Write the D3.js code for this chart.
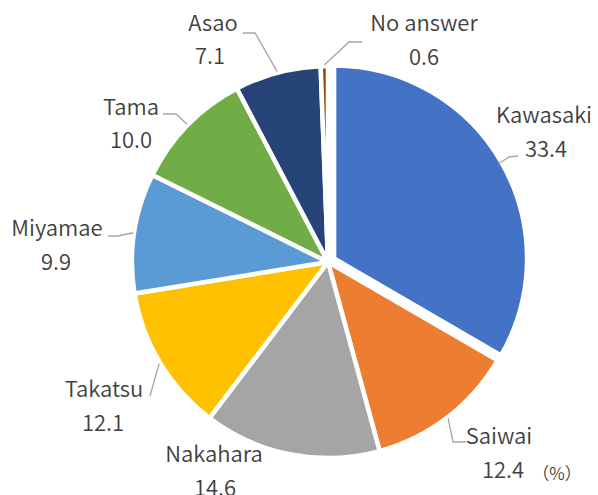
<!DOCTYPE html>
<html>
<head>
<meta charset="utf-8">
<script src="https://cdn.jsdelivr.net/npm/d3@7/dist/d3.min.js"></script>
<style>
  html, body { margin: 0; padding: 0; background: #fff; }
  svg { display: block; }
</style>
</head>
<body>
<svg id="chart" width="598" height="495"></svg>
<script>
// ---- data ----
const categories = ["Kawasaki", "Saiwai", "Nakahara", "Takatsu", "Miyamae", "Tama", "Asao", "No answer"];
const values = [33.4, 12.4, 14.6, 12.1, 9.9, 10.0, 7.1, 0.6];
const valueLabels = ["33.4", "12.4", "14.6", "12.1", "9.9", "10.0", "7.1", "0.6"];
const colors = ["#4472C4", "#ED7D31", "#A5A5A5", "#FFC000", "#5B9BD5", "#70AD47", "#264478", "#9E480E"];
const unitLabel = "（%）";

// ---- layout (label placement, leader elbows) ----
const cx = 328, cy = 262, R = 196, explode = 7;
const labelLayout = [
  { x: 544, y1: 123, y2: 157, dx2: 2, leader: [[509,157],[518,156]] },
  { x: 499, y1: 444, y2: 478, dx2: 4, leader: [[453,442],[466,442]] },
  { x: 214, y1: 462, y2: 496, dx2: 1, leader: null },
  { x: 104, y1: 397, y2: 431, dx2: -1, leader: [[150,396]] },
  { x: 57,  y1: 236, y2: 270, dx2: -1, leader: [[118,236],[108,236]] },
  { x: 131, y1: 115, y2: 148, dx2: 0, leader: [[176,114],[163,114]] },
  { x: 213, y1: 31,  y2: 64,  dx2: -3, leader: [[255,33],[243,33]] },
  { x: 424, y1: 31,  y2: 65,  dx2: 0, leader: [[349,42],[362,42]] }
];

const data = categories.map((c, i) => ({ name: c, value: values[i], label: valueLabels[i], color: colors[i], layout: labelLayout[i] }));

const svg = d3.select("#chart");
const g = svg.append("g").attr("transform", `translate(${cx},${cy})`);

const pie = d3.pie().sort(null).value(d => d.value);
const arcs = pie(data);
const arc = d3.arc().innerRadius(0).outerRadius(d => d.index === 0 ? R - 3 : R);
const leaderArc = d3.arc().innerRadius(R + 1).outerRadius(R + 1);

g.selectAll("path.slice")
  .data(arcs)
  .enter().append("path")
  .attr("class", "slice")
  .attr("d", d => arc(d))
  .attr("fill", d => d.data.color)
  .attr("stroke", "#fff")
  .attr("stroke-width", 4.5)
  .attr("stroke-linejoin", "round")
  .attr("transform", (d, i) => {
    if (i !== 0) return null;
    const a = (d.startAngle + d.endAngle) / 2;
    return `translate(${explode * Math.sin(a)},${-explode * Math.cos(a)})`;
  });

// leader lines
const line = d3.line();
arcs.forEach(d => {
  const L = d.data.layout;
  if (!L.leader) return;
  const c = leaderArc.centroid(d);
  const start = [c[0] + cx, c[1] + cy];
  svg.append("path")
    .attr("d", line([start, ...L.leader]))
    .attr("fill", "none")
    .attr("stroke", "#A6A6A6")
    .attr("stroke-width", 1.3);
});

// labels
const fontFam = "'Noto Sans CJK JP', 'Noto Sans', sans-serif";
arcs.forEach(d => {
  const L = d.data.layout;
  svg.append("text")
    .attr("x", L.x).attr("y", L.y1)
    .attr("text-anchor", "middle")
    .attr("font-family", fontFam)
    .attr("font-size", 22)
    .attr("font-weight", 350)
    .attr("fill", "#404040")
    .text(d.data.name);
  svg.append("text")
    .attr("x", L.x + L.dx2).attr("y", L.y2)
    .attr("text-anchor", "middle")
    .attr("font-family", fontFam)
    .attr("font-size", 22)
    .attr("font-weight", 350)
    .attr("fill", "#404040")
    .text(d.data.label);
});

svg.append("text")
  .attr("x", 557).attr("y", 480)
  .attr("text-anchor", "middle")
  .attr("font-family", fontFam)
  .attr("font-size", 17)
  .attr("font-weight", 350)
  .attr("fill", "#404040")
  .text(unitLabel);
</script>
</body>
</html>
